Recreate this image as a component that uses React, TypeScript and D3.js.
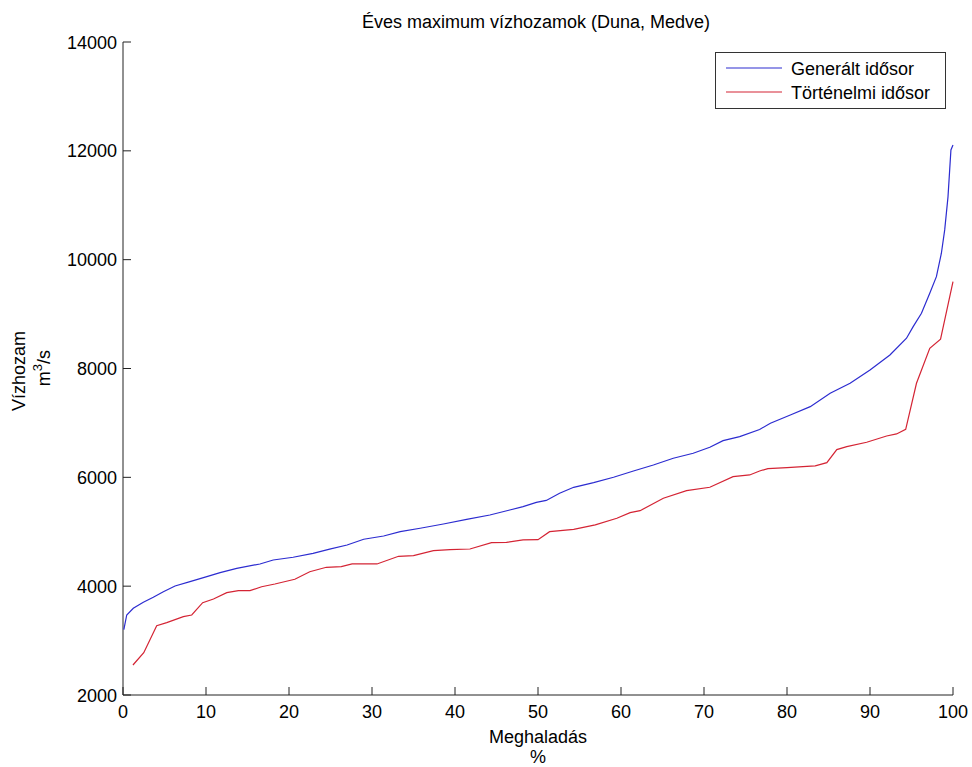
import React, { useEffect, useRef } from 'react';
import * as d3 from 'd3';

// Generált idősor (x: meghaladás %, y: vízhozam m3/s)
const generaltX = [0.1, 0.45, 1.24, 2.45, 3.65, 4.86, 6.27, 8.07, 10.1, 11.7, 13.7, 16.5, 18.1, 20.5, 22.9, 24.9, 27.0, 29.0, 31.4, 33.4, 35.8, 38.6, 41.4, 44.2, 46.6, 48.2, 49.8, 51.0, 52.6, 54.3, 56.7, 59.1, 61.5, 63.9, 66.3, 68.7, 70.7, 72.3, 74.3, 76.7, 78.0, 80.4, 82.8, 85.2, 87.6, 90.0, 92.4, 94.4, 95.2, 96.2, 97.2, 98.0, 98.6, 99.0, 99.4, 99.6, 99.75, 100];
const generaltY = [3200, 3470, 3593, 3704, 3796, 3899, 4003, 4083, 4175, 4248, 4328, 4408, 4481, 4531, 4604, 4680, 4757, 4862, 4922, 5001, 5064, 5143, 5229, 5308, 5400, 5461, 5540, 5575, 5707, 5817, 5902, 6001, 6117, 6227, 6350, 6442, 6553, 6675, 6748, 6880, 6994, 7146, 7299, 7545, 7729, 7974, 8249, 8556, 8769, 9016, 9384, 9688, 10118, 10547, 11159, 11650, 12017, 12109];

// Történelmi idősor
const tortenelmiX = [1.2, 2.5, 4.06, 5.27, 7.27, 8.28, 9.6, 10.9, 12.5, 13.9, 15.3, 16.7, 18.3, 20.7, 22.5, 24.5, 26.3, 27.6, 30.6, 33.2, 35.0, 37.4, 39.4, 41.8, 44.4, 46.2, 48.2, 50.0, 51.4, 54.3, 56.9, 59.5, 61.1, 62.3, 65.1, 67.9, 70.7, 73.5, 75.5, 76.7, 77.7, 80.0, 82.4, 83.4, 84.8, 86.0, 87.2, 89.6, 92.0, 93.2, 94.3, 95.6, 97.2, 98.5, 100];
const tortenelmiY = [2551, 2777, 3274, 3329, 3439, 3470, 3696, 3764, 3880, 3917, 3917, 3990, 4040, 4127, 4266, 4347, 4360, 4408, 4408, 4549, 4560, 4652, 4670, 4683, 4800, 4806, 4849, 4855, 5001, 5045, 5125, 5248, 5351, 5387, 5615, 5755, 5817, 6012, 6044, 6117, 6160, 6180, 6200, 6210, 6270, 6510, 6564, 6645, 6760, 6797, 6883, 7729, 8372, 8538, 9596];

const xTicks = [0, 10, 20, 30, 40, 50, 60, 70, 80, 90, 100];
const yTicks = [2000, 4000, 6000, 8000, 10000, 12000, 14000];
const seriesNames = ['Generált idősor', 'Történelmi idősor'];
const seriesColors = ['#2c2cd0', '#d42434'];

const FONT = 'Arial, "Liberation Sans", Helvetica, sans-serif';
const FS = '18px';

const App = () => {
  const svgRef = useRef<SVGSVGElement>(null);

  useEffect(() => {
    const svg = d3.select(svgRef.current);
    svg.selectAll('*').remove();

    const left = 123, right = 953, top = 42, bottom = 695;
    const x = d3.scaleLinear().domain([0, 100]).range([left, right]);
    const y = d3.scaleLinear().domain([2000, 14000]).range([bottom, top]);

    svg.append('rect').attr('width', 972).attr('height', 767).attr('fill', '#fff');

    // axes: left + bottom only, ticks pointing in
    svg.append('line')
      .attr('x1', left).attr('x2', left).attr('y1', top).attr('y2', bottom)
      .attr('stroke', '#222').attr('stroke-width', 1);
    svg.append('line')
      .attr('x1', left).attr('x2', right).attr('y1', bottom).attr('y2', bottom)
      .attr('stroke', '#222').attr('stroke-width', 1);

    xTicks.forEach(t => {
      svg.append('line')
        .attr('x1', x(t)).attr('x2', x(t)).attr('y1', bottom).attr('y2', bottom - 8)
        .attr('stroke', '#222');
      svg.append('text')
        .attr('x', x(t)).attr('y', 718)
        .attr('text-anchor', 'middle')
        .style('font-family', FONT).style('font-size', FS)
        .text(t);
    });

    yTicks.forEach(t => {
      svg.append('line')
        .attr('x1', left).attr('x2', left + 8).attr('y1', y(t)).attr('y2', y(t))
        .attr('stroke', '#222');
      svg.append('text')
        .attr('x', left - 6).attr('y', y(t) + 6.5)
        .attr('text-anchor', 'end')
        .style('font-family', FONT).style('font-size', FS)
        .text(t);
    });

    const line = d3.line<[number, number]>()
      .x(d => x(d[0]))
      .y(d => y(d[1]));

    const series = [
      d3.zip(generaltX, generaltY) as [number, number][],
      d3.zip(tortenelmiX, tortenelmiY) as [number, number][],
    ];

    series.forEach((pts, i) => {
      svg.append('path')
        .datum(pts)
        .attr('d', line)
        .attr('fill', 'none')
        .attr('stroke', seriesColors[i])
        .attr('stroke-width', 1.2);
    });

    // title
    svg.append('text')
      .attr('x', 536).attr('y', 28)
      .attr('text-anchor', 'middle')
      .style('font-family', FONT).style('font-size', FS)
      .text('Éves maximum vízhozamok (Duna, Medve)');

    // x label (two lines)
    svg.append('text')
      .attr('x', (left + right) / 2).attr('y', 743)
      .attr('text-anchor', 'middle')
      .style('font-family', FONT).style('font-size', FS)
      .text('Meghaladás');
    svg.append('text')
      .attr('x', (left + right) / 2).attr('y', 763)
      .attr('text-anchor', 'middle')
      .style('font-family', FONT).style('font-size', FS)
      .text('%');

    // y label (two lines, rotated)
    svg.append('text')
      .attr('transform', 'translate(25, 371) rotate(-90)')
      .attr('text-anchor', 'middle')
      .style('font-family', FONT).style('font-size', FS)
      .text('Vízhozam');
    const unit = svg.append('text')
      .attr('transform', 'translate(50, 368) rotate(-90)')
      .attr('text-anchor', 'middle')
      .style('font-family', FONT).style('font-size', FS);
    unit.append('tspan').text('m');
    unit.append('tspan').attr('dy', -8).style('font-size', '13px').text('3');
    unit.append('tspan').attr('dy', 8).text('/s');

    // legend
    const lg = svg.append('g');
    lg.append('rect')
      .attr('x', 715.5).attr('y', 52.5).attr('width', 230).attr('height', 56)
      .attr('fill', '#fff').attr('stroke', '#333');
    seriesNames.forEach((name, i) => {
      const ly = 68 + i * 24;
      lg.append('line')
        .attr('x1', 726).attr('x2', 782).attr('y1', ly).attr('y2', ly)
        .attr('stroke', seriesColors[i]).attr('stroke-width', 1.2);
      lg.append('text')
        .attr('x', 791).attr('y', ly + 6.5)
        .style('font-family', FONT).style('font-size', FS)
        .text(name);
    });
  }, []);

  return (
    <svg ref={svgRef} width={972} height={767}
      style={{ position: 'absolute', left: 0, top: 0, display: 'block' }} />
  );
};

export default App;
